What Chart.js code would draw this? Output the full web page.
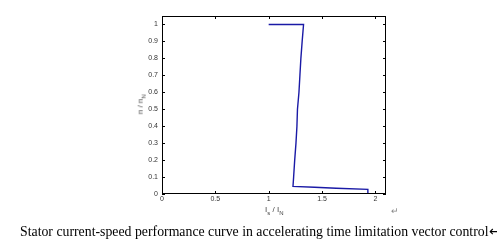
<!DOCTYPE html>
<html><head><meta charset="utf-8">
<script src="https://cdn.jsdelivr.net/npm/chart.js@4/dist/chart.umd.min.js"></script>
<style>
html,body{margin:0;padding:0;background:#fff;width:497px;height:244px;overflow:hidden;}
#wrap{position:absolute;left:0;top:0;width:497px;height:244px;}
.lbl{position:absolute;font-family:"Liberation Sans",Arial,sans-serif;color:#444;white-space:nowrap;}
#cap{position:absolute;left:20px;top:223px;font-family:"Liberation Serif","Times New Roman",serif;font-size:13.8px;color:#000;white-space:nowrap;}
</style></head><body>
<div id="wrap"><canvas id="c" width="497" height="244"></canvas></div>
<div class="lbl" style="left:265px;top:205px;font-size:8px;">I<sub style="font-size:6px;">s</sub> / I<sub style="font-size:6px;">N</sub></div>
<div class="lbl" style="left:131px;top:99px;font-size:8px;transform:rotate(-90deg);transform-origin:center;">n / n<sub style="font-size:6px;">N</sub></div>
<div class="lbl" style="left:391px;top:206px;font-size:9px;color:#888;">↵</div>
<div id="cap">Stator current-speed performance curve in accelerating time limitation vector control↵</div>
<script>
const currentRatio = [1.0, 1.327, 1.314, 1.302, 1.293, 1.284, 1.270, 1.265, 1.256, 1.244, 1.234, 1.228, 1.43, 1.634, 1.93, 1.93];
const speedRatio   = [1.0, 1.0,   0.9,   0.8,   0.7,   0.6,   0.5,   0.4,   0.3,   0.2,   0.1,   0.045, 0.04, 0.034, 0.027, 0.0];
const xTicks = [0, 0.5, 1, 1.5, 2];
const yTicks = [0, 0.1, 0.2, 0.3, 0.4, 0.5, 0.6, 0.7, 0.8, 0.9, 1];

const pts = currentRatio.map((x, i) => ({x: x, y: speedRatio[i]}));

const framePlugin = {
  id: 'frame',
  afterDraw(chart) {
    const {ctx, chartArea: a, scales} = chart;
    ctx.save();
    ctx.strokeStyle = '#000';
    ctx.lineWidth = 1;
    ctx.strokeRect(a.left + 0.5, a.top + 0.5, a.right - a.left - 1, a.bottom - a.top - 1);
    ctx.beginPath();
    xTicks.forEach(v => {
      const px = Math.round(scales.x.getPixelForValue(v)) + 0.5;
      ctx.moveTo(px, a.bottom); ctx.lineTo(px, a.bottom - 3);
      ctx.moveTo(px, a.top); ctx.lineTo(px, a.top + 3);
    });
    yTicks.forEach(v => {
      const py = Math.round(scales.y.getPixelForValue(v)) + 0.5;
      ctx.moveTo(a.left, py); ctx.lineTo(a.left + 3, py);
      ctx.moveTo(a.right, py); ctx.lineTo(a.right - 3, py);
    });
    ctx.stroke();
    ctx.restore();
  }
};

new Chart(document.getElementById('c'), {
  type: 'scatter',
  data: { datasets: [{
    data: pts, showLine: true, borderColor: '#1a1aa6', borderWidth: 1.4,
    pointRadius: 0, fill: false, tension: 0
  }]},
  options: {
    responsive: false, animation: false,
    layout: { padding: { left: 0, top: 16, right: 111, bottom: 0 } },
    plugins: { legend: { display: false }, tooltip: { enabled: false } },
    scales: {
      x: {
        type: 'linear', min: 0, max: 2.1,
        afterBuildTicks: s => { s.ticks = xTicks.map(v => ({value: v})); },
        ticks: { includeBounds: false, autoSkip: false, maxRotation: 0, padding: 1, color: '#333',
          font: { family: 'Liberation Sans', size: 7 }, callback: v => String(v) },
        grid: { display: false, tickLength: 0 }, border: { display: false },
        afterFit: s => { s.height = 50; }
      },
      y: {
        type: 'linear', min: 0, max: 1.05,
        afterBuildTicks: s => { s.ticks = yTicks.map(v => ({value: v})); },
        ticks: { includeBounds: false, autoSkip: false, padding: 4, color: '#333',
          font: { family: 'Liberation Sans', size: 7 }, callback: v => String(Math.round(v * 10) / 10) },
        grid: { display: false, tickLength: 0 }, border: { display: false },
        afterFit: s => { s.width = 162; }
      }
    }
  },
  plugins: [framePlugin]
});
</script>
</body></html>
